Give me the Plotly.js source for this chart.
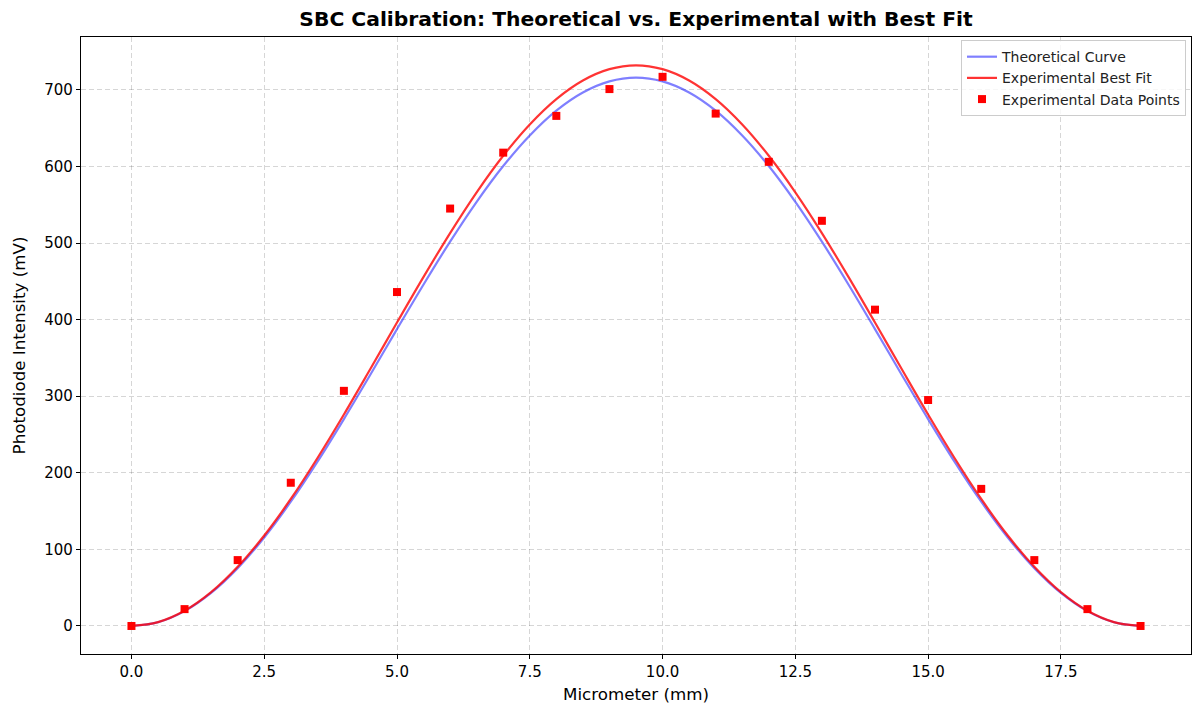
<!DOCTYPE html>
<html>
<head>
<meta charset="utf-8">
<script src="https://cdn.plot.ly/plotly-3.0.1.min.js"></script>
<style>
html,body{margin:0;padding:0;background:#fff;}
#chart{width:1192px;height:710px;}
</style>
</head>
<body>
<div id="chart"></div>
<script>
// Measured data points
const dataX = [0,1,2,3,4,5,6,7,8,9,10,11,12,13,14,15,16,17,18,19];
const dataY = [0,22,86,187,307,436,545,618,666,701,717,669,606,529,413,295,179,86,22,0];

// Curves at 0.5 mm steps
const curveX = [0,0.5,1,1.5,2,2.5,3,3.5,4,4.5,5,5.5,6,6.5,7,7.5,8,8.5,9,9.5,
                10,10.5,11,11.5,12,12.5,13,13.5,14,14.5,15,15.5,16,16.5,17,17.5,18,18.5,19];
const theoreticalY = [0,4.9,19.4,43.2,75.5,115.5,162.2,214.2,270.1,328.4,387.6,445.9,501.8,553.8,600.5,640.5,672.9,696.6,711.1,716,
                      711.1,696.6,672.9,640.5,600.5,553.8,501.8,445.9,387.6,328.4,270.1,214.2,162.2,115.5,75.5,43.2,19.4,4.9,0];
const fitY = [0,5.0,19.8,44.1,77.2,118.1,165.8,219.0,276.1,335.8,396.2,455.8,513.0,566.2,613.9,654.8,687.9,712.2,727.0,732,
              727.0,712.2,687.9,654.8,613.9,566.2,513.0,455.8,396.2,335.8,276.1,219.0,165.8,118.1,77.2,44.1,19.8,5.0,0];

const seriesNames = ["Theoretical Curve","Experimental Best Fit","Experimental Data Points"];
const titleText = "SBC Calibration: Theoretical vs. Experimental with Best Fit";
const xLabel = "Micrometer (mm)";
const yLabel = "Photodiode Intensity (mV)";

const font = "DejaVu Sans, sans-serif";

const traces = [
  {x: curveX, y: theoreticalY, mode: "lines", name: seriesNames[0],
   line: {color: "rgba(0,0,255,0.5)", width: 2.2, shape: "spline"}},
  {x: curveX, y: fitY, mode: "lines", name: seriesNames[1],
   line: {color: "rgba(255,0,0,0.8)", width: 2.2, shape: "spline"}},
  {x: dataX, y: dataY, mode: "markers", name: seriesNames[2],
   marker: {symbol: "square", color: "#ff0000", size: 8}}
];

const axisCommon = {
  showline: true, linecolor: "#000", linewidth: 1.2, mirror: true,
  ticks: "outside", ticklen: 4, tickwidth: 1, tickcolor: "#000",
  showgrid: true, gridcolor: "rgba(0,0,0,0.16)", griddash: "5px,3px", gridwidth: 1,
  zeroline: false,
  tickfont: {family: font, size: 15, color: "#000"}
};

const layout = {
  width: 1192, height: 710,
  margin: {l: 81, r: 1, t: 37, b: 56},
  paper_bgcolor: "#fff", plot_bgcolor: "#fff",
  font: {family: font, color: "#000"},
  title: {text: "<b>" + titleText + "</b>", font: {family: font, size: 20.3, color: "#000"},
          x: 0.5, xref: "paper", y: 0.973, yanchor: "middle"},
  xaxis: Object.assign({}, axisCommon, {
    range: [-0.95, 19.95], tickmode: "linear", tick0: 0, dtick: 2.5, tickformat: ".1f",
    title: {text: xLabel, font: {family: font, size: 16.7, color: "#000"}, standoff: 8}
  }),
  yaxis: Object.assign({}, axisCommon, {
    range: [-36.6, 769], tickmode: "linear", tick0: 0, dtick: 100,
    title: {text: yLabel, font: {family: font, size: 16.7, color: "#000"}, standoff: 14}
  }),
  legend: {x: 0.9955, y: 0.995, xanchor: "right", yanchor: "top",
           bgcolor: "rgba(255,255,255,0.8)", bordercolor: "#cccccc", borderwidth: 1,
           font: {family: font, size: 14, color: "#222"}, tracegroupgap: 0, itemwidth: 30},
  showlegend: true
};

Plotly.newPlot("chart", traces, layout, {displayModeBar: false, staticPlot: true});
</script>
</body>
</html>
